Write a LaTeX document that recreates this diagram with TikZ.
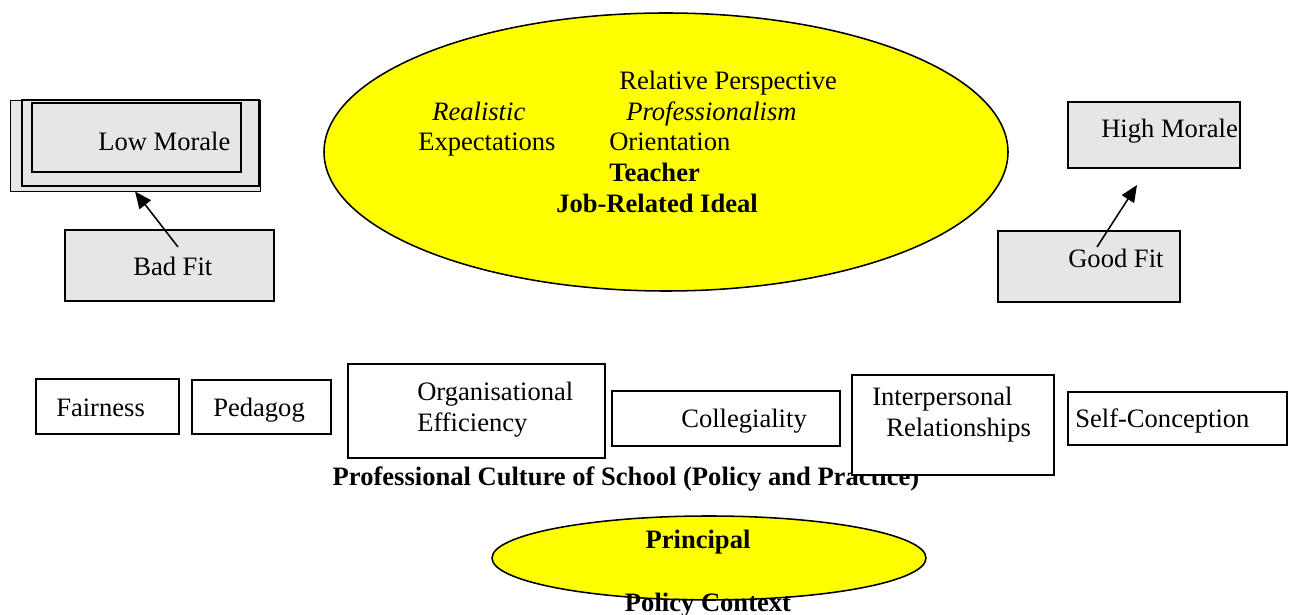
\documentclass[tikz,border=0pt]{standalone}
\usepackage{fontspec}
\setmainfont{Liberation Serif}
\usepackage{xcolor}
\usetikzlibrary{arrows.meta}
\usetikzlibrary{shapes.geometric}
\definecolor{boxgrey}{RGB}{230,230,230}
\definecolor{blobyellow}{RGB}{255,255,0}
\def\px{0.025cm}

\begin{document}
\begin{tikzpicture}[x=\px,y=-\px,
		txt/.style={inner sep=0pt,font=\fontsize{18.9}{21.7}\selectfont},
		box/.style={draw,line width=1.1pt,fill=white,inner sep=0pt},
		greybox/.style={box,fill=boxgrey},
		blob/.style={ellipse,draw,line width=1.1pt,fill=blobyellow,inner sep=0pt},
		fitarrow/.style={-{Triangle[length=0.42cm,width=0.36cm]},line width=1.1pt}]
				\useasboundingbox (0,0) rectangle (1289,615);
				% teacher ideal
				\node[blob,minimum width=684*\px,minimum height=278*\px] (ideal) at (666,152) {};
				\node[txt,anchor=base west] (relpersp) at (619,90) {Relative Perspective};
				\node[txt,anchor=base west] (realistic) at (432,121) {\itshape Realistic};
				\node[txt,anchor=base west] (profism) at (626,121) {\itshape Professionalism};
				\node[txt,anchor=base west] (expect) at (418,151) {Expectations};
				\node[txt,anchor=base west] (orient) at (609,151) {Orientation};
				\node[txt,anchor=base west] (teacher) at (609,182) {\bfseries Teacher};
				\node[txt,anchor=base west] (jobideal) at (556,213) {\bfseries Job-Related Ideal};
				% morale
				\node[greybox,line width=0.7pt,minimum width=250*\px,minimum height=91*\px] (low) at (135,145.5) {};
				\draw[line width=0.9pt] (22,100) rectangle (259,186);
				\draw[line width=1.1pt] (32,103) rectangle (241,172);
				\node[txt,anchor=base west] (lowtxt) at (98,151) {Low Morale};
				\node[greybox,minimum width=209*\px,minimum height=71*\px] (bad) at (169.5,265.5) {};
				\node[txt,anchor=base west] (badtxt) at (133,276) {Bad Fit};
				\node[greybox,minimum width=172*\px,minimum height=66*\px] (high) at (1154,135) {};
				\node[txt,anchor=base west] (hightxt) at (1101,138) {High Morale};
				\node[greybox,minimum width=182*\px,minimum height=71*\px] (good) at (1089,266.5) {};
				\node[txt,anchor=base west] (goodtxt) at (1068,268) {Good Fit};
				\coordinate (badfrom) at (178,247);
				\coordinate (goodfrom) at (1097,247);
				\coordinate (hightip) at (1137,185);
				\draw[fitarrow] (badfrom) -- (low.south);
				\draw[fitarrow] (goodfrom) -- (hightip);
				% school culture
				\node[txt,anchor=base] (culture) at (626,486) {\bfseries Professional Culture of School (Policy and Practice)};
				\node[box,minimum width=143*\px,minimum height=55*\px] (fair) at (107.5,406.5) {};
				\node[txt,anchor=base west] (fairtxt) at (56,417) {Fairness};
				\node[box,minimum width=139*\px,minimum height=54*\px] (ped) at (261.5,407) {};
				\node[txt,anchor=base west] (pedtxt) at (213,417) {Pedagog};
				\node[box,minimum width=257*\px,minimum height=94*\px] (org) at (476.5,411) {};
				\node[txt,anchor=base west] (orgtxt) at (417,401) {Organisational};
				\node[txt,anchor=base west] (efftxt) at (417,432) {Efficiency};
				\node[box,minimum width=228*\px,minimum height=55*\px] (coll) at (726,418.5) {};
				\node[txt,anchor=base west] (colltxt) at (681,428) {Collegiality};
				\node[box,minimum width=202*\px,minimum height=100*\px] (inter) at (953,425) {};
				\node[txt,anchor=base west] (intertxt) at (872,406) {Interpersonal};
				\node[txt,anchor=base west] (reltxt) at (886,437) {Relationships};
				\node[box,minimum width=219*\px,minimum height=53*\px] (self) at (1177.5,418.5) {};
				\node[txt,anchor=base west] (selftxt) at (1075,428) {Self-Conception};
				% principal
				\node[blob,minimum width=434*\px,minimum height=84*\px] (principal) at (709,558) {};
				\node[txt,anchor=base] (princtxt) at (698,549) {\bfseries Principal};
				\node[txt,anchor=base] (policytxt) at (708,611) {\bfseries Policy Context};
			\end{tikzpicture}
\end{document}
